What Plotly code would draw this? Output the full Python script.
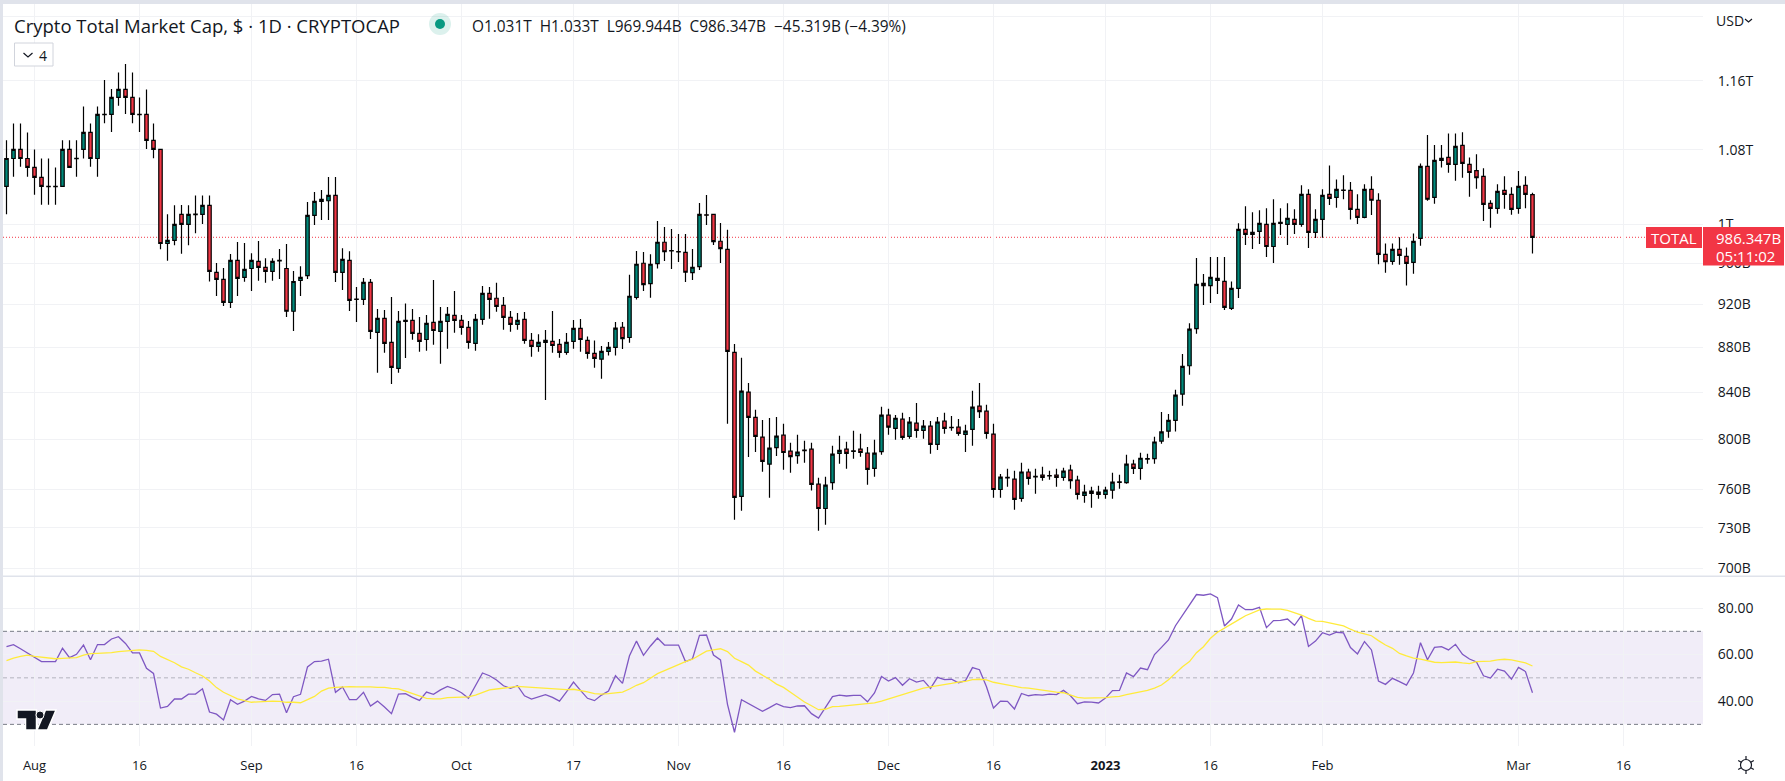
# Crypto total market cap daily candles with an RSI pane below
import math
import pandas as pd
import plotly.graph_objects as go

WIDTH, HEIGHT = 1785, 781

# ── Data ────────────────────────────────────────────────────────────────────
# first candle 2022-07-28, last 2023-03-03, values in billions USD
first_day = "2022-07-28"

opens = [
    1039.7, 1070.2, 1080.3, 1070.2, 1060.4, 1049.4, 1039.9, 1039.9, 1039.7, 1080.3,
    1070.4, 1080.3, 1099.5, 1070.2, 1120.4, 1120.2, 1140.1, 1149.6, 1140.1, 1120.4,
    1120.2, 1090.4, 1080.3, 980, 983.1, 1010, 999.6, 1010.2, 1010, 1019.5,
    951.2, 944.3, 922.1, 963.1, 946.3, 955, 962.1, 956.1, 952.1, 962.4,
    955, 913.6, 943.2, 947.9, 1009, 1023.7, 1024.4, 1030.1, 951.2, 963.1,
    925.2, 925, 941.4, 893.8, 906.9, 884.6, 861.2, 904.1, 905.1, 892.9,
    887.3, 903.1, 894.7, 904.1, 909.7, 905.1, 898.5, 883.7, 906, 930.7,
    926, 919.2, 907.9, 901.3, 906, 886.4, 880.9, 884.6, 885.5, 882.8,
    875.5, 885.5, 897.5, 886.4, 874.6, 869.4, 876.5, 880.1, 898.6, 889.1,
    926.7, 960.2, 940.1, 959.9, 981.3, 972.9, 971.9, 971, 951, 956.9,
    1009.6, 1010.1, 982.3, 974.1, 875.6, 754.2, 840.2, 818.6, 802, 779.9,
    793.3, 803.6, 790.4, 786.8, 791.3, 792, 763.8, 744.8, 765.1, 788.5,
    792, 790.2, 792, 788.7, 776.4, 790, 820.4, 809.2, 817, 802.5,
    813.6, 807.6, 811.1, 795.9, 815.3, 810.2, 810.3, 804.2, 808.4, 828.1,
    823.8, 804.5, 759.6, 769.2, 767.9, 752.7, 773.5, 770, 771.1, 770.7,
    771.1, 769.2, 775, 767, 755, 758.4, 757.6, 755.8, 759.1, 765.6,
    765.1, 779.9, 776.4, 784.3, 784.3, 798.7, 806.9, 816, 838.5, 863.5,
    897.4, 940.4, 938.2, 943.3, 942.3, 916.4, 935.6, 994.4, 989.3, 992.4,
    999.6, 977, 1000.7, 999.6, 1004.8, 999.6, 1031.2, 991.3, 1004.8, 1031.2,
    1028, 1035.7, 1035.5, 1015.3, 1006.9, 1036.6, 1024.9, 969, 962, 974.1,
    967, 961.1, 985.3, 1061.5, 1028, 1068.1, 1071.4, 1063.7, 1084.8, 1063.7,
    1056.9, 1050.6, 1021.7, 1016.4, 1035.5, 1031.2, 1016.4, 1040.9, 1031,
]
highs = [
    1090.7, 1109.7, 1109.7, 1099.5, 1080.3, 1070.2, 1070.2, 1060.4, 1090.7, 1090.7,
    1090.7, 1129.5, 1109.7, 1129.5, 1160.7, 1150, 1170, 1180.1, 1170, 1140.1,
    1149.6, 1109.7, 1080.5, 1010.2, 1019.5, 1019.8, 1019.5, 1030, 1030, 1030,
    960.4, 955.4, 969.4, 981.5, 980.5, 970.3, 982.5, 965.1, 965.1, 974.5,
    979.5, 952.5, 957.3, 1023, 1033.6, 1035.8, 1049.8, 1049.8, 975.1, 972.1,
    936.8, 945.6, 944.6, 915.7, 914.8, 927.2, 913.8, 921.1, 915.7, 908.2,
    910.1, 943.6, 917.6, 917.6, 933, 910.1, 904.4, 911, 937.8, 936.8,
    940.9, 927.2, 913.8, 912, 912.9, 893.2, 892.2, 896, 913.8, 887.7,
    893.2, 905.4, 906.3, 890.1, 886.4, 881.4, 884.9, 903.6, 903.6, 948.7,
    972.4, 971.4, 969.3, 1003, 997, 994.9, 989.8, 989.8, 974.4, 1022.1,
    1030.6, 1010.1, 1001.1, 994, 883.1, 870.6, 848.3, 825, 816.4, 818.1,
    818.9, 813.1, 797.3, 803.9, 799, 797.3, 769, 769.8, 794.8, 803,
    798.1, 807.3, 804.7, 793.9, 799.8, 827.5, 825.8, 820.6, 822.4, 818.9,
    830.8, 816.4, 815.5, 818.9, 822.4, 819.8, 817.2, 812.2, 841.4, 848.3,
    829.3, 813.1, 772, 776.1, 774.5, 781, 776.1, 776.1, 777.8, 774.5,
    776.1, 776.9, 779.3, 770.5, 763.3, 761.7, 762.5, 761.7, 773, 771.3,
    787.4, 783.3, 789, 788.2, 802.2, 823, 821.5, 842.2, 874, 902.4,
    965.5, 949.5, 966.4, 966.4, 966.4, 942.3, 1000.7, 1018.5, 1012.2, 1014.3,
    1016.4, 1025.9, 1016.4, 1021.7, 1015.3, 1040.9, 1036.6, 1015.3, 1036.6, 1062.6,
    1047.3, 1051.7, 1044.4, 1031.2, 1042, 1050.6, 1032.3, 980.1, 980.1, 986.3,
    976, 990.3, 1064.8, 1096.5, 1085.2, 1085.2, 1098.4, 1098.4, 1099.6, 1071.4,
    1074.8, 1059.4, 1024.9, 1042, 1050.6, 1038.7, 1056.5, 1050.6, 1033,
]
lows = [
    1010.2, 1050.1, 1061.1, 1050.1, 1030.7, 1020.1, 1020.1, 1020.1, 1039.7, 1060.4,
    1050.1, 1070.2, 1061.1, 1050.1, 1110.1, 1099.9, 1130.4, 1120.6, 1110.1, 1099.9,
    1080.7, 1070.6, 974.3, 962.6, 978.3, 969.6, 978.3, 990.5, 999.9, 942.3,
    928.2, 918.6, 916.7, 928.2, 941.9, 932.9, 942.9, 941, 942.9, 944.7,
    908.2, 895.1, 928.2, 944.6, 998.9, 1004.2, 1004.2, 941.7, 933.9, 913.8,
    903.5, 919.5, 887.7, 857.3, 875.2, 847.4, 857.3, 870.4, 887.1, 876.1,
    877, 882.5, 865.3, 878.8, 893.4, 891.6, 878.8, 877, 901, 906.6,
    913.2, 896.3, 894.4, 896.3, 883.4, 871.6, 876.1, 833.4, 875.2, 870.7,
    873.4, 878.8, 876.1, 869.8, 861.8, 851.9, 872.7, 872.7, 878.6, 884.3,
    924.8, 933, 926.4, 954.9, 962.5, 954.6, 961.5, 941.7, 943.7, 953.6,
    999, 978.5, 960.5, 813.1, 736.1, 743, 785.6, 789.8, 773.7, 753.2,
    786.5, 775.3, 773, 780.2, 781, 758.9, 727.8, 732.4, 759.4, 780.2,
    776.1, 784.1, 785.8, 763.3, 769.8, 787.4, 803.9, 799.8, 799.8, 800.6,
    801.5, 800.6, 788.2, 791.4, 804.7, 807.3, 803, 789.8, 794.8, 818.1,
    800.6, 753.2, 753.2, 761.7, 743.8, 750.1, 763.3, 756.3, 766.5, 767.3,
    761.7, 766.5, 760.2, 751.7, 749.3, 745.4, 752.4, 752.4, 752.4, 760.2,
    764.1, 772, 767.3, 780.2, 780.2, 796.4, 801.5, 806.6, 828.4, 855.4,
    892.5, 919.6, 921.5, 930, 914.8, 914.8, 926.2, 978.4, 974.4, 979.4,
    966.4, 960.4, 988.6, 978.4, 989.7, 997.2, 975.4, 985.6, 985.9, 1019.9,
    1017, 1026, 1004.8, 1000, 1005.9, 1009.3, 959.1, 950.9, 958.8, 958.8,
    938.2, 949.9, 977.7, 1024.5, 1021.3, 1060.4, 1054.4, 1045.9, 1049.1, 1028.7,
    1037.3, 1003.1, 996.2, 1010.8, 1016, 1009.7, 1010.8, 1016.4, 969.944,
]
closes = [
    1070.2, 1080.3, 1070.2, 1060.4, 1049.4, 1039.7, 1039.5, 1039.5, 1080.3, 1060.4,
    1070.0, 1099.5, 1070.2, 1120.2, 1120.0, 1140.1, 1149.6, 1140.1, 1120.2, 1120.0,
    1090.4, 1080.3, 980, 983.1, 999.6, 999.6, 1010, 1009.8, 1019.5, 952.1,
    944.3, 922.1, 963.1, 945.3, 954.1, 963.1, 956.1, 952.1, 962.1, 963,
    913.6, 942.2, 946.2, 1009, 1023.7, 1025.9, 1030.1, 951.2, 964, 924,
    924.8, 941.4, 894.7, 906.9, 883.7, 862, 904.1, 905.1, 892.9, 885.5,
    902.2, 895.6, 904.1, 910.7, 905.1, 898.5, 884.6, 906, 930.7, 925,
    918.3, 907.9, 901.3, 905.1, 886.4, 880.9, 884.6, 886.4, 881.8, 875.5,
    884.6, 897.5, 887.3, 874.6, 870.1, 876.5, 880.1, 897.7, 888.1, 927.9,
    959.2, 939.1, 959.2, 981.3, 971.7, 972.5, 971.5, 951.3, 956.2, 1010.1,
    1009.2, 981.9, 974.8, 876.5, 753.4, 841.1, 818.6, 802.5, 782, 792.8,
    802.8, 789.3, 786, 789.6, 790.9, 763.6, 744.8, 763, 787.9, 791.1,
    788.5, 790.6, 789.3, 775.6, 788.7, 820.4, 810.3, 817.8, 801.7, 814.5,
    807.6, 811.1, 795.9, 814.5, 809.2, 809.8, 805, 807, 827.2, 823.4,
    805, 759.6, 769.4, 768.8, 751.9, 773.5, 768.4, 769.6, 769.2, 770.3,
    769.2, 774.2, 766.7, 755.8, 757.6, 756.5, 755.8, 759.1, 765.4, 765.2,
    779.9, 776.4, 784.6, 783.9, 797.9, 806.3, 816, 837.6, 862.9, 896.8,
    939.4, 938.2, 946.2, 945.3, 917.3, 935.6, 994.4, 989.3, 991.3, 1000.7,
    977, 1000.7, 1001.8, 1005.9, 999.6, 1031.2, 991.3, 1004.8, 1030.2, 1027,
    1036.6, 1035.3, 1015.3, 1006.9, 1036.6, 1024.9, 969, 961.7, 974.1, 968,
    960.1, 982.2, 1061.5, 1026, 1068.1, 1070.3, 1063.7, 1083.7, 1064.8, 1054.8,
    1049.1, 1020.6, 1016.4, 1034.4, 1031.2, 1015.3, 1039.8, 1031.2, 986.347,
]
rsi = [
    63.4, 64.3, 62.5, 60.7, 58.8, 57, 57, 57, 62.7, 58.7,
    60.1, 64.1, 57.8, 64.3, 64.3, 66.7, 67.7, 64.8, 60.7, 60.7,
    54.1, 51.9, 37, 37.7, 40.9, 40.9, 43, 43, 45.3, 35.3,
    34.4, 31.9, 40.6, 38.6, 40, 42, 41, 40.3, 42.8, 43,
    35, 41.9, 42.9, 54.7, 57, 57.2, 58, 43.8, 46.1, 40.6,
    40.6, 43.8, 37.9, 40, 37.5, 34.6, 43, 43.2, 41.6, 40.3,
    43.9, 42.9, 44.8, 46.3, 45.2, 43.6, 41.2, 46.6, 52.1, 50.9,
    49.1, 46.6, 45.5, 46.6, 42.3, 40.9, 42, 42.8, 41.6, 40,
    44, 48.2, 44.6, 41.2, 40.2, 42.6, 44.3, 50.9, 47.6, 59.5,
    65.8, 59.7, 63.7, 67.1, 64.1, 64.1, 64.1, 57, 58.2, 68.3,
    68.4, 59.8, 57.7, 38.6, 26.6, 40.6, 38.9, 37.2, 35.6, 37.2,
    38.9, 37.6, 37.2, 37.9, 38, 34.6, 32.7, 37.3, 41.9, 42.6,
    42.2, 42.5, 42.5, 39.7, 43.5, 50.6, 48.6, 50.1, 46.8, 49.6,
    48.2, 48.9, 45.5, 50.2, 49.2, 49.4, 47.9, 48.8, 54.4, 53.5,
    46.2, 37, 40, 39.9, 36.6, 43.3, 42.3, 42.8, 42.6, 43,
    42.8, 44.6, 42.3, 38.9, 39.7, 39.6, 39.2, 41.3, 44.5, 44.6,
    52.1, 50.5, 54.2, 53.5, 60, 63.1, 66.3, 72.4, 76.7, 81.3,
    85.8, 85.5, 86.1, 84.5, 72.3, 75.3, 81.3, 79.3, 79.3, 80.3,
    71.6, 74.6, 74.7, 75.3, 72.6, 76.7, 63.5, 65.8, 69.4, 68.4,
    69.6, 69.3, 63, 60.3, 65.6, 62, 48.6, 47.2, 49.8, 48.4,
    46.9, 52.1, 65.1, 57.8, 63.1, 63.4, 62, 64.4, 60.1, 58.1,
    56.8, 50.9, 49.9, 53.7, 52.9, 49.4, 54.5, 52.7, 43.6,
]
rsi_ma = [
    57.4, 58.5, 59.2, 59.8, 59.2, 58.8, 58.5, 58.2, 58.4, 58.4,
    58.7, 59.8, 60.4, 60.5, 60.5, 60.8, 61.3, 61.5, 61.8, 62,
    61.8, 61.4, 59.2, 57.8, 56.5, 54.7, 53.7, 52.2, 50.8, 48.6,
    45.8, 43.8, 42.3, 41, 40.2, 39.5, 39.7, 39.9, 40, 39.9,
    39.5, 39.5, 39.3, 40.6, 42, 44.3, 45.6, 45.9, 46.2, 46.2,
    46.1, 46.2, 46.1, 45.9, 45.9, 45.5, 45.3, 44.3, 43.2, 42.2,
    41.2, 41, 41, 41.5, 41.6, 41.8, 41.8, 42.6, 43.8, 44.8,
    45.2, 45.5, 45.9, 46.3, 46.1, 45.9, 45.6, 45.3, 45.1, 44.9,
    44.9, 45.1, 44.6, 44, 43.2, 43, 43.2, 43.5, 43.9, 45.2,
    46.8, 47.9, 49.8, 51.8, 53.1, 54.5, 55.8, 57, 58, 59.8,
    61.5, 62, 62.5, 61.3, 58.4, 57, 55.5, 52.9, 51.2, 49.4,
    47.3, 45.9, 43.8, 41.6, 39.6, 38, 36.3, 36.5, 37.6, 37.7,
    38, 38.3, 38.7, 38.9, 39.2, 40, 40.9, 42, 42.6, 43.6,
    44.6, 45.6, 46.1, 46.5, 47.1, 47.6, 48.2, 48.5, 49.2, 49.4,
    49.1, 48.1, 47.5, 46.9, 46.2, 45.8, 45.6, 45.1, 44.6, 44.2,
    43.9, 43.6, 42.6, 41.6, 41.3, 41.3, 41.3, 41.5, 41.8, 42,
    42.8, 43.3, 43.9, 44.6, 45.6, 46.9, 49.2, 51.9, 54.8, 57,
    60.8, 63.4, 67, 69.6, 71.3, 72.9, 74.9, 76.7, 78, 79.2,
    79.6, 79.7, 79.5, 79, 78, 77, 75.6, 74.4, 74.3, 73.7,
    73, 72.3, 70.9, 69.6, 68.9, 68.1, 66, 64.1, 62.7, 60.5,
    59.4, 58.5, 58, 57.4, 56.7, 56.5, 56.7, 56.8, 56.4, 56.1,
    57, 57.1, 57.2, 57.7, 58, 57.7, 57, 56.4, 55.1,
]

price_ticks = [700, 730, 760, 800, 840, 880, 920, 960, 1000, 1080, 1160, 1240]
price_labels = ["700B", "730B", "760B", "800B", "840B", "880B", "920B", "960B", "1T", "1.08T", "1.16T", ""]
rsi_ticks = [40, 60, 80]
rsi_labels = ["40.00", "60.00", "80.00"]
date_ticks = ["2022-08-01", "2022-08-16", "2022-09-01", "2022-09-16", "2022-10-01", "2022-10-17",
              "2022-11-01", "2022-11-16", "2022-12-01", "2022-12-16", "2023-01-01", "2023-01-16",
              "2023-02-01", "2023-03-01", "2023-03-16"]
date_labels = ["Aug", "16", "Sep", "16", "Oct", "17", "Nov", "16", "Dec", "16", "<b>2023</b>", "16",
               "Feb", "Mar", "16"]

dates = pd.date_range(first_day, periods=len(closes), freq="D")

# ── Colours / fonts ─────────────────────────────────────────────────────────
GREEN = "#00897b"
RED = "#f23645"
INK = "#131722"
GRID = "#f1f2f5"
FRAME = "#e0e3eb"
FONT = "Open Sans"

# pane limits, in page pixels
LEFT, RIGHT = 3, 1703
PRICE_TOP, PRICE_BOTTOM = 4, 576
RSI_TOP, RSI_BOTTOM = 577, 746


def px(x):
    return x / WIDTH


def py(y):
    return 1 - y / HEIGHT


fig = go.Figure()

fig.add_trace(go.Candlestick(
    x=dates, open=opens, high=highs, low=lows, close=closes,
    xaxis="x", yaxis="y", name="TOTAL", whiskerwidth=0,
    increasing=dict(fillcolor=GREEN, line=dict(color="#000000", width=1.2)),
    decreasing=dict(fillcolor=RED, line=dict(color="#000000", width=1.2)),
))
fig.add_trace(go.Scatter(x=dates, y=rsi, xaxis="x2", yaxis="y2", mode="lines", name="RSI",
                         line=dict(color="#7e57c2", width=1.3)))
fig.add_trace(go.Scatter(x=dates, y=rsi_ma, xaxis="x2", yaxis="y2", mode="lines", name="RSI MA",
                         line=dict(color="#ffeb3b", width=1.3)))

x_range = ["2022-07-27 12:00", "2023-03-27 08:40"]
axis_font = dict(family=FONT, size=14, color=INK)

fig.update_layout(
    width=WIDTH, height=HEIGHT,
    margin=dict(l=0, r=0, t=0, b=0),
    paper_bgcolor="#ffffff", plot_bgcolor="#ffffff",
    showlegend=False,
    font=dict(family=FONT, color=INK),
    xaxis=dict(
        domain=[px(LEFT), px(RIGHT)], range=x_range, anchor="y",
        rangeslider=dict(visible=False), tickvals=date_ticks, showticklabels=False,
        showgrid=True, gridcolor=GRID, gridwidth=1, ticks="", zeroline=False,
    ),
    xaxis2=dict(
        domain=[px(LEFT), px(RIGHT)], range=x_range, anchor="y2", matches="x",
        tickvals=date_ticks, ticktext=date_labels, tickangle=0,
        tickfont=dict(family=FONT, size=13, color=INK),
        showgrid=True, gridcolor=GRID, gridwidth=1,
        ticks="outside", ticklen=7, tickcolor="rgba(0,0,0,0)", zeroline=False,
    ),
    yaxis=dict(
        domain=[py(PRICE_BOTTOM), py(PRICE_TOP)], type="log", side="right", anchor="x",
        range=[math.log10(694.53), math.log10(1255.9)],
        tickvals=price_ticks, ticktext=price_labels, tickfont=axis_font,
        showgrid=True, gridcolor=GRID, gridwidth=1,
        ticks="outside", ticklen=11, tickcolor="rgba(0,0,0,0)", zeroline=False,
    ),
    yaxis2=dict(
        domain=[py(RSI_BOTTOM), py(RSI_TOP)], side="right", anchor="x2",
        range=[20.7, 93.35],
        tickvals=rsi_ticks, ticktext=rsi_labels, tickfont=axis_font,
        showgrid=True, gridcolor=GRID, gridwidth=1,
        ticks="outside", ticklen=11, tickcolor="rgba(0,0,0,0)", zeroline=False,
    ),
)

# ── Page frame, indicator levels, last price line ───────────────────────────
shapes = [
    dict(type="rect", xref="paper", yref="paper", x0=0, x1=1, y0=py(4), y1=1,
         fillcolor=FRAME, line_width=0, layer="above"),
    dict(type="rect", xref="paper", yref="paper", x0=0, x1=px(LEFT), y0=0, y1=1,
         fillcolor=FRAME, line_width=0, layer="above"),
    dict(type="line", xref="paper", yref="paper", x0=0, x1=1, y0=py(576.3), y1=py(576.3),
         line=dict(color=FRAME, width=1.5), layer="above"),
    dict(type="rect", xref="paper", yref="y2", x0=px(LEFT), x1=px(RIGHT), y0=30, y1=70,
         fillcolor="rgba(126,87,194,0.11)", line_width=0, layer="below"),
    dict(type="line", xref="paper", yref="y2", x0=px(LEFT), x1=px(RIGHT), y0=70, y1=70,
         line=dict(color="#787b86", width=1, dash="4px,3px"), layer="below"),
    dict(type="line", xref="paper", yref="y2", x0=px(LEFT), x1=px(RIGHT), y0=50, y1=50,
         line=dict(color="rgba(120,123,134,0.5)", width=1, dash="4px,3px"), layer="below"),
    dict(type="line", xref="paper", yref="y2", x0=px(LEFT), x1=px(RIGHT), y0=30, y1=30,
         line=dict(color="#787b86", width=1, dash="4px,3px"), layer="below"),
    dict(type="line", xref="paper", yref="y", x0=px(LEFT), x1=px(RIGHT), y0=closes[-1], y1=closes[-1],
         line=dict(color=RED, width=1, dash="1px,2px"), layer="below"),
    # price labels on the axis
    dict(type="rect", xref="paper", yref="paper", x0=px(1646), x1=px(1702), y0=py(248), y1=py(227),
         fillcolor=RED, line_width=0, layer="above"),
    dict(type="rect", xref="paper", yref="paper", x0=px(1703), x1=px(1784), y0=py(265.5), y1=py(227),
         fillcolor=RED, line_width=0, layer="above"),
    # status dot
    dict(type="circle", xref="paper", yref="paper", x0=px(429), x1=px(451), y0=py(35), y1=py(13),
         fillcolor="rgba(8,153,129,0.14)", line_width=0, layer="above"),
    dict(type="circle", xref="paper", yref="paper", x0=px(435), x1=px(445), y0=py(29), y1=py(19),
         fillcolor="#089981", line_width=0, layer="above"),
    # collapsed indicators button
    dict(type="rect", xref="paper", yref="paper", x0=px(14.5), x1=px(53), y0=py(66), y1=py(43),
         fillcolor="#ffffff", line=dict(color="#d1d4dc", width=1), layer="above"),
]


def page_path(points, color, width=1.2, fill=None):
    # polyline given in page pixels, used for the small interface icons
    path = "M" + " L".join(f"{px(x):.5f},{py(y):.5f}" for x, y in points)
    if fill:
        path += " Z"
    return dict(type="path", xref="paper", yref="paper", path=path, layer="above",
                fillcolor=fill or "rgba(0,0,0,0)", line=dict(color=color, width=width))


shapes.append(page_path([(1745, 19), (1748.5, 22), (1752, 19)], INK))
shapes.append(page_path([(23.5, 53), (28, 57), (32.5, 53)], INK))

# TradingView mark, with its white halo
shapes.append(page_path([(17, 710), (36.5, 710), (36.5, 730), (25.5, 730), (25.5, 719), (17, 719)], "#ffffff", 1.5, INK))
shapes.append(page_path([(45.5, 710), (56, 710), (47.5, 730), (37, 730)], "#ffffff", 1.5, INK))
shapes.append(dict(type="circle", xref="paper", yref="paper", x0=px(36), x1=px(44), y0=py(719), y1=py(711),
                   fillcolor=INK, line=dict(color="#ffffff", width=1), layer="above"))

# settings icon
shapes.append(dict(type="circle", xref="paper", yref="paper", x0=px(1740.5), x1=px(1751.5), y0=py(770.5), y1=py(759.5),
                   fillcolor="#ffffff", line=dict(color=INK, width=1.2), layer="above"))
for a in range(0, 360, 60):
    ca, sa = math.cos(math.radians(a + 30)), math.sin(math.radians(a + 30))
    shapes.append(page_path([(1746 + 5.5 * ca, 765 + 5.5 * sa), (1746 + 9 * ca, 765 + 9 * sa)], INK))

fig.update_layout(shapes=shapes)


def label(x, y, text, size=13, color=INK, anchor="left"):
    fig.add_annotation(xref="paper", yref="paper", x=px(x), y=py(y), text=text, showarrow=False,
                       xanchor=anchor, yanchor="middle", align=anchor,
                       font=dict(family=FONT, size=size, color=color))


label(12, 25, "Crypto Total Market Cap, $ · 1D · CRYPTOCAP", size=18.5)
label(470, 27, "O1.031T&nbsp; H1.033T&nbsp; L969.944B&nbsp; C986.347B&nbsp; −45.319B (−4.39%)", size=15.4)
label(37, 55, "4", size=14)
label(1714, 20.5, "USD", size=14)
label(1674, 238, "TOTAL", size=15, color="#ffffff", anchor="center")
label(1714, 238, "986.347B", size=15, color="#ffffff")
label(1714, 256, "05:11:02", size=15, color="#ffffff")

fig.write_html("out.html", config={"displayModeBar": False},
               post_script="document.body.style.margin='0';document.body.style.overflow='hidden';")
